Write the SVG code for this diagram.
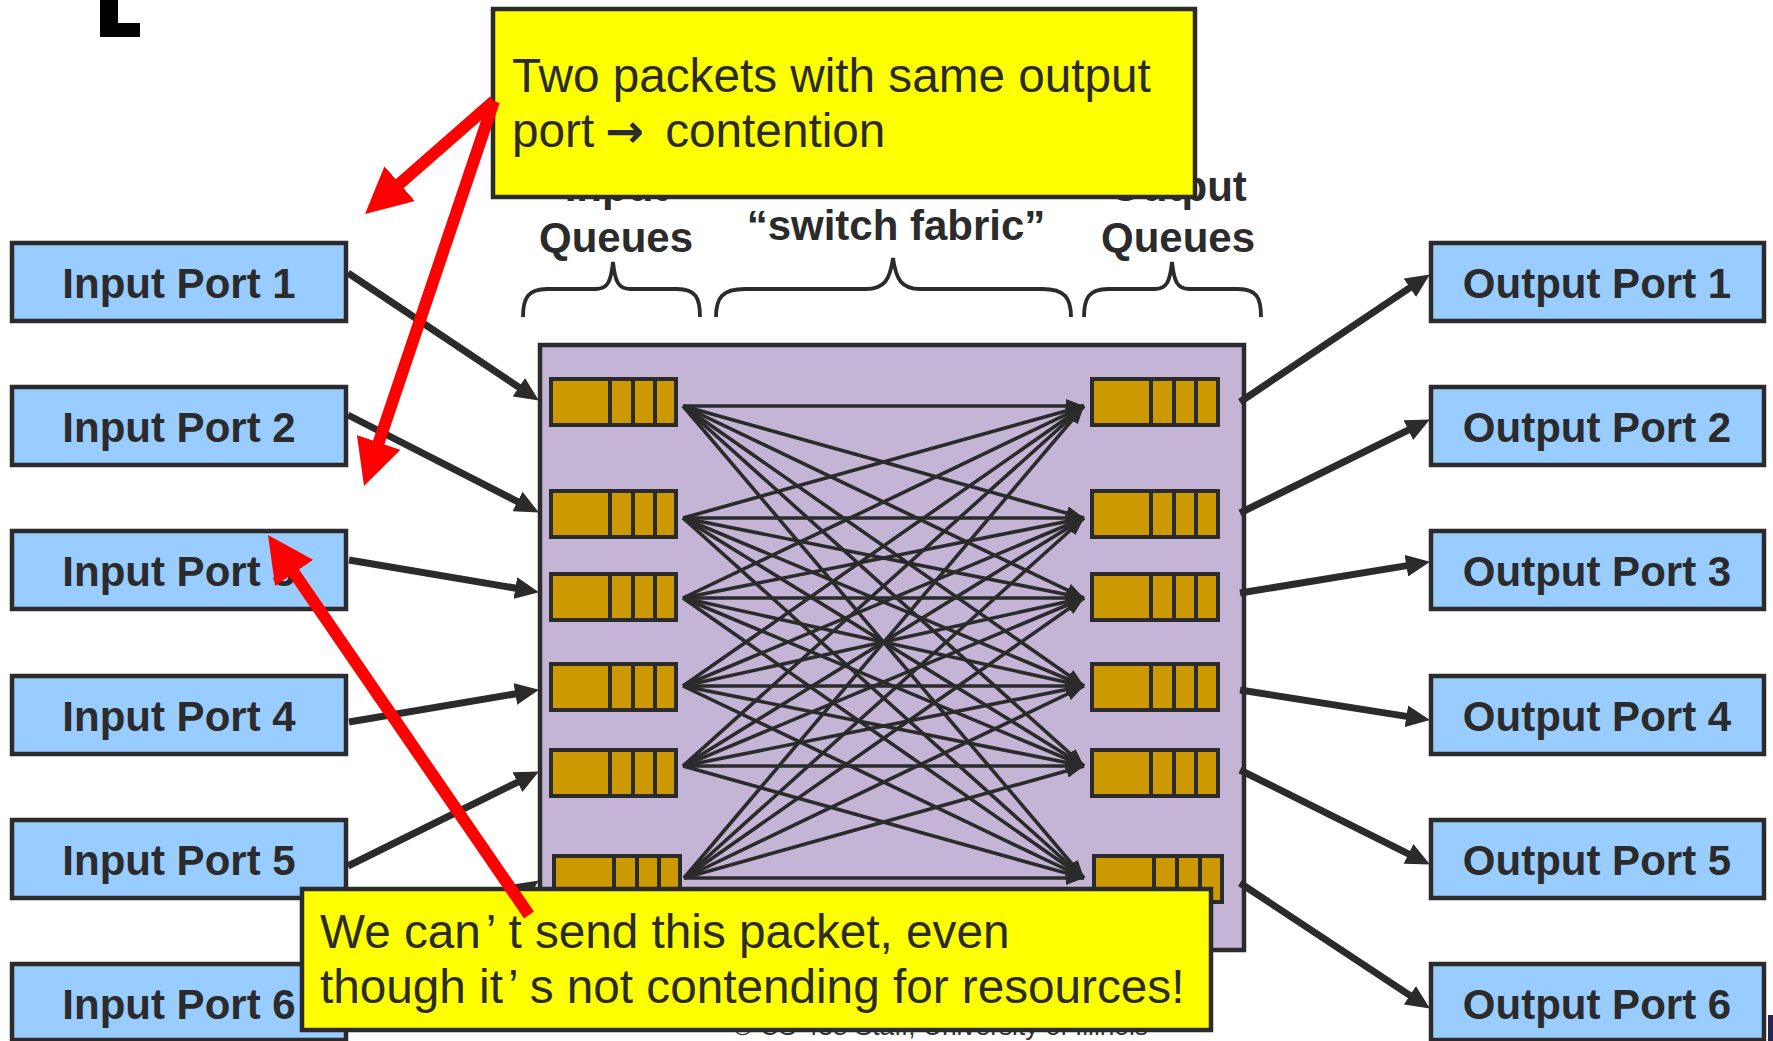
<svg xmlns="http://www.w3.org/2000/svg" width="1773" height="1041" viewBox="0 0 1773 1041">
<defs>
<style>
.port rect{fill:#99ccff;stroke:#2b2b2b;stroke-width:4.5}
.port text{font-family:"Liberation Sans",Arial,sans-serif;font-weight:bold;font-size:42px;fill:#2b2b2b;text-anchor:middle}
.q rect{fill:#cc9900;stroke:#2b2b2b;stroke-width:4}
.q path{fill:none;stroke:#2b2b2b;stroke-width:4}
.fab line{stroke:#2b2b2b;stroke-width:3.6;marker-end:url(#ah)}
.pa line{stroke:#2b2b2b;stroke-width:7;marker-end:url(#bh)}
.red line{stroke:#ff0000;stroke-width:12;marker-end:url(#rh)}
.note rect{fill:#ffff00;stroke:#2b2b2b;stroke-width:4.5}
.note text{font-family:"Liberation Sans",Arial,sans-serif;font-size:47.7px;fill:#2b2b2b}
.arw{font-family:"DejaVu Sans",sans-serif;font-size:46px;font-weight:bold}
.lbl{font-family:"Liberation Sans",Arial,sans-serif;font-weight:bold;font-size:42px;fill:#2b2b2b;text-anchor:middle}
.brace{fill:none;stroke:#2b2b2b;stroke-width:3.8}
</style>
<marker id="ah" markerUnits="userSpaceOnUse" markerWidth="18" markerHeight="14" refX="18" refY="7" orient="auto"><path d="M0,0 L18,7 L0,14 z" fill="#2b2b2b"/></marker>
<marker id="bh" markerUnits="userSpaceOnUse" markerWidth="24" markerHeight="22" refX="10" refY="11" orient="auto"><path d="M0,0 L24,11 L0,22 z" fill="#2b2b2b"/></marker>
<marker id="rh" markerUnits="userSpaceOnUse" markerWidth="46" markerHeight="46" refX="16" refY="23" orient="auto"><path d="M0,0 L46,23 L0,46 z" fill="#ff0000"/></marker>
</defs>
<rect width="1773" height="1041" fill="#ffffff"/>

<g id="corner-mark" fill="#000">
<rect x="100" y="0" width="18" height="37"/>
<rect x="100" y="23" width="40" height="14"/>
</g>
<rect id="logo-edge" x="1768" y="1015" width="5" height="26" fill="#2a2550"/>

<text id="footer" x="733" y="1035" font-family="Liberation Sans, Arial, sans-serif" font-size="26.3" fill="#333">© CS 438 Staff, University of Illinois</text>

<g id="input-port-1" class="port"><rect x="12" y="243" width="334" height="78"/><text x="179" y="298">Input Port 1</text></g>
<g id="input-port-2" class="port"><rect x="12" y="387" width="334" height="78"/><text x="179" y="442">Input Port 2</text></g>
<g id="input-port-3" class="port"><rect x="12" y="531" width="334" height="78"/><text x="179" y="586">Input Port 3</text></g>
<g id="input-port-4" class="port"><rect x="12" y="676" width="334" height="78"/><text x="179" y="731">Input Port 4</text></g>
<g id="input-port-5" class="port"><rect x="12" y="820" width="334" height="78"/><text x="179" y="875">Input Port 5</text></g>
<g id="input-port-6" class="port"><rect x="12" y="964" width="334" height="76"/><text x="179" y="1019">Input Port 6</text></g>

<g id="output-port-1" class="port"><rect x="1431" y="243" width="333" height="78"/><text x="1597" y="298">Output Port 1</text></g>
<g id="output-port-2" class="port"><rect x="1431" y="387" width="333" height="78"/><text x="1597" y="442">Output Port 2</text></g>
<g id="output-port-3" class="port"><rect x="1431" y="531" width="333" height="78"/><text x="1597" y="586">Output Port 3</text></g>
<g id="output-port-4" class="port"><rect x="1431" y="676" width="333" height="78"/><text x="1597" y="731">Output Port 4</text></g>
<g id="output-port-5" class="port"><rect x="1431" y="820" width="333" height="78"/><text x="1597" y="875">Output Port 5</text></g>
<g id="output-port-6" class="port"><rect x="1431" y="964" width="333" height="76"/><text x="1597" y="1019">Output Port 6</text></g>

<g id="switch-box"><rect x="540" y="345" width="704" height="605" fill="#c4b5d6" stroke="#2b2b2b" stroke-width="4.5"/></g>

<g id="input-queue-1" class="q"><rect x="551" y="379" width="125" height="46"/><path d="M610,379V425M633,379V425M655,379V425"/></g>
<g id="input-queue-2" class="q"><rect x="551" y="491" width="125" height="46"/><path d="M610,491V537M633,491V537M655,491V537"/></g>
<g id="input-queue-3" class="q"><rect x="551" y="574" width="125" height="46"/><path d="M610,574V620M633,574V620M655,574V620"/></g>
<g id="input-queue-4" class="q"><rect x="551" y="664" width="125" height="46"/><path d="M610,664V710M633,664V710M655,664V710"/></g>
<g id="input-queue-5" class="q"><rect x="551" y="750" width="125" height="46"/><path d="M610,750V796M633,750V796M655,750V796"/></g>
<g id="input-queue-6" class="q"><rect x="554" y="856" width="126" height="46"/><path d="M614,856V902M637,856V902M659,856V902"/></g>

<g id="output-queue-1" class="q"><rect x="1092" y="379" width="126" height="46"/><path d="M1151,379V425M1174,379V425M1196,379V425"/></g>
<g id="output-queue-2" class="q"><rect x="1092" y="491" width="126" height="46"/><path d="M1151,491V537M1174,491V537M1196,491V537"/></g>
<g id="output-queue-3" class="q"><rect x="1092" y="574" width="126" height="46"/><path d="M1151,574V620M1174,574V620M1196,574V620"/></g>
<g id="output-queue-4" class="q"><rect x="1092" y="664" width="126" height="46"/><path d="M1151,664V710M1174,664V710M1196,664V710"/></g>
<g id="output-queue-5" class="q"><rect x="1092" y="750" width="126" height="46"/><path d="M1151,750V796M1174,750V796M1196,750V796"/></g>
<g id="output-queue-6" class="q"><rect x="1094" y="856" width="128" height="46"/><path d="M1154,856V902M1177,856V902M1200,856V902"/></g>

<g id="connectors">
<g class="fab">
<line x1="683" y1="406" x2="1084" y2="406"/><line x1="683" y1="406" x2="1084" y2="518"/><line x1="683" y1="406" x2="1084" y2="598"/><line x1="683" y1="406" x2="1084" y2="686"/><line x1="683" y1="406" x2="1084" y2="766"/><line x1="683" y1="406" x2="1084" y2="878"/>
<line x1="683" y1="518" x2="1084" y2="406"/><line x1="683" y1="518" x2="1084" y2="518"/><line x1="683" y1="518" x2="1084" y2="598"/><line x1="683" y1="518" x2="1084" y2="686"/><line x1="683" y1="518" x2="1084" y2="766"/><line x1="683" y1="518" x2="1084" y2="878"/>
<line x1="683" y1="598" x2="1084" y2="406"/><line x1="683" y1="598" x2="1084" y2="518"/><line x1="683" y1="598" x2="1084" y2="598"/><line x1="683" y1="598" x2="1084" y2="686"/><line x1="683" y1="598" x2="1084" y2="766"/><line x1="683" y1="598" x2="1084" y2="878"/>
<line x1="683" y1="686" x2="1084" y2="406"/><line x1="683" y1="686" x2="1084" y2="518"/><line x1="683" y1="686" x2="1084" y2="598"/><line x1="683" y1="686" x2="1084" y2="686"/><line x1="683" y1="686" x2="1084" y2="766"/><line x1="683" y1="686" x2="1084" y2="878"/>
<line x1="683" y1="766" x2="1084" y2="406"/><line x1="683" y1="766" x2="1084" y2="518"/><line x1="683" y1="766" x2="1084" y2="598"/><line x1="683" y1="766" x2="1084" y2="686"/><line x1="683" y1="766" x2="1084" y2="766"/><line x1="683" y1="766" x2="1084" y2="878"/>
<line x1="684" y1="878" x2="1084" y2="406"/><line x1="684" y1="878" x2="1084" y2="518"/><line x1="684" y1="878" x2="1084" y2="598"/><line x1="684" y1="878" x2="1084" y2="686"/><line x1="684" y1="878" x2="1084" y2="766"/><line x1="684" y1="878" x2="1084" y2="878"/>
</g>
<g class="pa">
<line x1="348" y1="273" x2="527.2" y2="392.8"/>
<line x1="348" y1="415" x2="526.4" y2="506.1"/>
<line x1="349" y1="560" x2="525.2" y2="589.8"/>
<line x1="349" y1="722" x2="525.2" y2="692.2"/>
<line x1="348" y1="866" x2="526.4" y2="777.8"/>
<line x1="348" y1="1007" x2="527.2" y2="888.2"/>
<line x1="1240" y1="402" x2="1418.2" y2="282.2"/>
<line x1="1240" y1="513" x2="1417.3" y2="425.7"/>
<line x1="1240" y1="593" x2="1416.2" y2="564.1"/>
<line x1="1240" y1="690" x2="1416.2" y2="717.9"/>
<line x1="1240" y1="770" x2="1417.4" y2="858.3"/>
<line x1="1240" y1="883" x2="1418.2" y2="1000.8"/>
</g>
</g>

<g id="labels">
<text class="lbl" x="616" y="201">Input</text>
<text class="lbl" x="616" y="252">Queues</text>
<text class="lbl" x="896" y="240">“switch fabric”</text>
<text class="lbl" x="1178" y="201">Output</text>
<text class="lbl" x="1178" y="252">Queues</text>
<path class="brace" d="M523,317 C523,298 528,289 547,289 L596,289 C608,289 611,281 613,262 C615,281 618,289 630,289 L677,289 C696,289 700,298 700,317"/>
<path class="brace" d="M716,317 C716,298 722,289 745,289 L866,289 C884,289 890,280 893,258 C896,280 902,289 920,289 L1042,289 C1065,289 1071,298 1071,317"/>
<path class="brace" d="M1084,317 C1084,298 1089,289 1108,289 L1155,289 C1167,289 1170,281 1172,262 C1174,281 1177,289 1189,289 L1238,289 C1257,289 1261,298 1261,317"/>
</g>

<g id="note-contention" class="note">
<rect x="493" y="9" width="702" height="188"/>
<text x="512" y="92">Two packets with same output</text>
<text x="512" y="147">port <tspan class="arw" dx="-2">→</tspan><tspan dx="8"> contention</tspan></text>
</g>

<g id="note-hol" class="note">
<rect x="302" y="889" width="909" height="141"/>
<text x="320" y="948">We can<tspan dx="5">’</tspan><tspan dx="12">t send this packet, even</tspan></text>
<text x="320" y="1003">though it<tspan dx="5">’</tspan><tspan dx="12">s not contending for resources!</tspan></text>
</g>

<g id="red-arrows" class="red">
<line x1="494" y1="101" x2="387.6" y2="194.2"/>
<line x1="494" y1="101" x2="373.6" y2="457.6"/>
<line x1="529" y1="915" x2="285.0" y2="559.7"/>
</g>
</svg>
